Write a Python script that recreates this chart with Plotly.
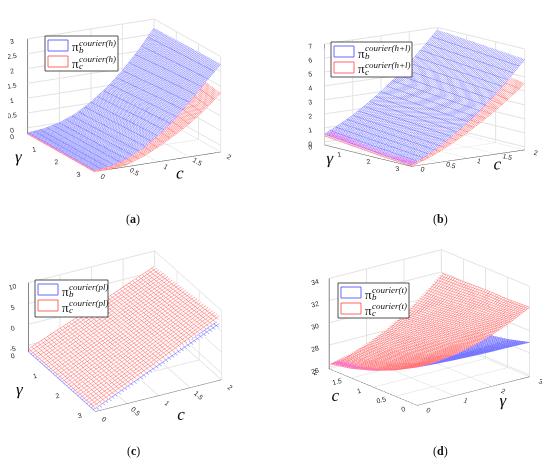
import numpy as np
import plotly.graph_objects as go

W, H = 550, 467

# ---------------- data ----------------
# panels (a)-(c): rows = gamma values, columns = c values
a_gamma = [0, 1, 2, 3]
a_c = [0, 0.25, 0.5, 0.75, 1, 1.25, 1.5, 1.75, 2]
a_blue = [
    [-0.17, -0.12, 0.00, 0.21, 0.53, 0.93, 1.43, 2.02, 2.70],
    [-0.17, -0.12, 0.02, 0.24, 0.57, 0.99, 1.50, 2.09, 2.72],
    [-0.17, -0.11, 0.03, 0.27, 0.62, 1.05, 1.57, 2.15, 2.74],
    [-0.17, -0.11, 0.05, 0.30, 0.66, 1.10, 1.63, 2.20, 2.75],
]
a_red = [
    [-0.22, -0.21, -0.13, 0.08, 0.36, 0.72, 1.13, 1.62, 2.19],
    [-0.22, -0.21, -0.14, 0.06, 0.33, 0.67, 1.05, 1.50, 2.03],
    [-0.22, -0.21, -0.15, 0.04, 0.30, 0.62, 0.98, 1.40, 1.90],
    [-0.22, -0.21, -0.16, 0.02, 0.27, 0.57, 0.90, 1.30, 1.78],
]

b_gamma = [0, 1, 2, 3]
b_c = [0, 0.25, 0.5, 0.75, 1, 1.25, 1.5, 1.75, 2]
b_blue = [
    [0.56, 1.04, 1.61, 2.26, 3.00, 3.83, 4.75, 5.75, 6.84],
    [0.34, 0.82, 1.40, 2.05, 2.80, 3.63, 4.55, 5.56, 6.65],
    [0.12, 0.61, 1.18, 1.85, 2.59, 3.43, 4.36, 5.37, 6.47],
    [-0.10, 0.39, 0.97, 1.64, 2.39, 3.23, 4.16, 5.18, 6.28],
]
b_red = [
    [0.42, 0.84, 1.32, 1.88, 2.50, 3.18, 3.93, 4.75, 5.64],
    [0.20, 0.59, 1.06, 1.60, 2.21, 2.87, 3.60, 4.39, 5.25],
    [-0.02, 0.35, 0.80, 1.33, 1.92, 2.57, 3.28, 4.05, 4.90],
    [-0.20, 0.14, 0.57, 1.08, 1.66, 2.29, 2.97, 3.73, 4.57],
]

c_gamma = [0, 1.5, 3]
c_c = [0, 1, 2]
c_blue = [
    [-6.65, -1.20, 4.80],
    [-6.65, -0.60, 5.70],
    [-6.65, -0.05, 6.50],
]
c_red = [
    [-5.90, 0.10, 6.30],
    [-5.85, 0.60, 7.35],
    [-5.80, 1.10, 8.40],
]

# panel (d): rows = gamma values, columns = c values
d_gamma = [0, 0.5, 1, 1.5, 2, 2.5, 3]
d_c = [0, 0.5, 1, 1.5, 2]
d_blue = [
    [29.30, 28.21, 27.35, 26.71, 26.30],
    [29.19, 28.16, 27.37, 26.79, 26.45],
    [29.10, 28.15, 27.43, 26.92, 26.65],
    [29.04, 28.16, 27.52, 27.09, 26.90],
    [29.00, 28.21, 27.65, 27.31, 27.20],
    [28.99, 28.29, 27.82, 27.57, 27.55],
    [28.95, 28.40, 28.03, 27.87, 27.95],
]
d_red = [
    [29.30, 28.21, 27.35, 26.71, 26.30],
    [29.36, 28.38, 27.63, 27.04, 26.67],
    [29.58, 28.74, 28.11, 27.59, 27.26],
    [29.97, 29.28, 28.79, 28.35, 28.08],
    [30.52, 30.01, 29.67, 29.33, 29.12],
    [31.24, 30.92, 30.76, 30.52, 30.39],
    [32.12, 32.02, 32.05, 31.93, 31.90],
]

legend_sup = ["courier(h)", "courier(h+l)", "courier(pl)", "courier(t)"]
panel_tags = ["a", "b", "c", "d"]

# ---------------- styling ----------------
BLUE = "rgba(30,30,255,0.65)"
RED = "rgba(255,30,30,0.65)"
WHITE_CS = [[0, "white"], [1, "white"]]
LIGHT = dict(ambient=1, diffuse=0, specular=0, fresnel=0, roughness=1)
TICKFONT = dict(family="Liberation Sans", size=9, color="#262626")
TITLEFONT = dict(family="Liberation Serif", size=17, color="#111", style="italic")
K = 1.36  # box scale

fig = go.Figure()


def mesh(gam, cc, z, color, scene, gstep, cstep):
    zt = np.array(z, dtype=float).T  # rows -> c, cols -> gamma
    fig.add_trace(go.Surface(
        x=gam, y=cc, z=zt, scene=scene,
        colorscale=WHITE_CS, showscale=False, lighting=LIGHT,
        hoverinfo="skip",
        contours=dict(
            x=dict(show=True, start=gam[0], end=gam[-1], size=gstep, color=color,
                   width=1, highlight=False),
            y=dict(show=True, start=cc[0], end=cc[-1], size=cstep, color=color,
                   width=1, highlight=False),
            z=dict(show=False, highlight=False),
        ),
    ))


mesh(a_gamma, a_c, a_red, RED, "scene", 0.05, 0.1)
mesh(a_gamma, a_c, a_blue, BLUE, "scene", 0.05, 0.1)
mesh(b_gamma, b_c, b_red, RED, "scene2", 0.05, 0.1)
mesh(b_gamma, b_c, b_blue, BLUE, "scene2", 0.05, 0.1)
mesh(c_gamma, c_c, c_blue, BLUE, "scene3", 0.1, 0.05)
mesh(c_gamma, c_c, c_red, RED, "scene3", 0.1, 0.05)
mesh(d_gamma, d_c, d_blue, BLUE, "scene4", 0.05, 0.05)
mesh(d_gamma, d_c, d_red, RED, "scene4", 0.05, 0.05)


def axis(title, rng, ticks):
    return dict(
        title=dict(text=title, font=TITLEFONT),
        range=rng, tickvals=ticks, ticktext=[("%g" % t) for t in ticks],
        tickfont=TICKFONT, showbackground=False, gridcolor="#e3e3e3",
        showline=True, linecolor="#262626", linewidth=1, zeroline=False,
        ticks="", showspikes=False, autorange=False,
    )


def scene(domx, domy, eye, center, zr, zticks, zaspect, r):
    e = np.array(eye, dtype=float)
    e = e / np.linalg.norm(e) * r
    return dict(
        domain=dict(x=domx, y=domy),
        xaxis=axis("γ", [0, 3], [0, 1, 2, 3]),
        yaxis=axis("c", [0, 2], [0, 0.5, 1, 1.5, 2]),
        zaxis=axis("", zr, zticks),
        aspectmode="manual", aspectratio=dict(x=K, y=K, z=K * zaspect),
        camera=dict(eye=dict(x=e[0] + center[0], y=e[1] + center[1], z=e[2] + center[2]),
                    up=dict(x=0, y=0, z=1),
                    center=dict(x=center[0], y=center[1], z=center[2]),
                    projection=dict(type="orthographic")),
        bgcolor="white",
    )


fig.update_layout(
    width=W, height=H, margin=dict(l=0, r=0, t=0, b=0),
    paper_bgcolor="white", showlegend=False,
    scene=scene([0.0, 0.5], [0.55, 1.0], [0.845, -0.445, 0.297], [0.138, 0.156, -0.160],
                [-0.22, 3], [0, 0.5, 1, 1.5, 2, 2.5, 3], 0.70, 1.6),
    scene2=scene([0.5, 1.0], [0.55, 1.0], [0.778, -0.599, 0.19], [0.0025, -0.051, -0.149],
                 [-0.22, 7], [0, 1, 2, 3, 4, 5, 6, 7], 0.72, 1.6),
    scene3=scene([0.0, 0.5], [0.06, 0.51], [0.777, -0.413, 0.474], [0.134, 0.149, -0.090],
                 [-6.65, 10], [-5, 0, 5, 10], 0.55, 1.6),
    scene4=scene([0.5, 1.0], [0.06, 0.51], [-0.584, -0.744, 0.326], [-0.097, 0.013, -0.128],
                 [25.85, 34], [26, 28, 30, 32, 34], 0.67, 1.6),
)

shapes = []
annots = []


def px(x):
    return x / W


def py(y):
    return 1 - y / H


def legend(x0, y0, x1, y1, sup):
    shapes.append(dict(type="rect", xref="paper", yref="paper",
                       x0=px(x0), x1=px(x1), y0=py(y0), y1=py(y1),
                       line=dict(color="#262626", width=0.8), fillcolor="white"))
    for k, (col, sub) in enumerate([("#6666ff", "b"), ("#ff6666", "c")]):
        yy = y0 + 4 + k * 16
        shapes.append(dict(type="rect", xref="paper", yref="paper",
                           x0=px(x0 + 3), x1=px(x0 + 23), y0=py(yy), y1=py(yy + 11),
                           line=dict(color=col, width=1), fillcolor="white"))
        annots.append(dict(xref="paper", yref="paper", x=px(x0 + 25), y=py(yy + 7),
                           text="π", showarrow=False, xanchor="left", yanchor="middle",
                           font=dict(family="Liberation Serif", size=13, color="#111")))
        annots.append(dict(xref="paper", yref="paper", x=px(x0 + 32), y=py(yy + 2.5),
                           text=sup, showarrow=False, xanchor="left", yanchor="middle",
                           font=dict(family="Liberation Serif", size=9, color="#111",
                                     style="italic")))
        annots.append(dict(xref="paper", yref="paper", x=px(x0 + 31.5), y=py(yy + 10),
                           text=sub, showarrow=False, xanchor="left", yanchor="middle",
                           font=dict(family="Liberation Serif", size=9, color="#111",
                                     style="italic")))


legend(37, 28, 110, 63, legend_sup[0])
legend(323, 34, 404, 69, legend_sup[1])
legend(27, 272, 100, 309, legend_sup[2])
legend(330, 275, 401, 310, legend_sup[3])

for tag, (x, y) in zip(panel_tags, [(125, 211), (432, 211), (125, 443), (432, 443)]):
    annots.append(dict(xref="paper", yref="paper", x=px(x), y=py(y),
                       text="(<b>%s</b>)" % tag, showarrow=False,
                       xanchor="center", yanchor="middle",
                       font=dict(family="Liberation Serif", size=12, color="#111")))

fig.update_layout(shapes=shapes, annotations=annots)
fig.write_html("out.html")
